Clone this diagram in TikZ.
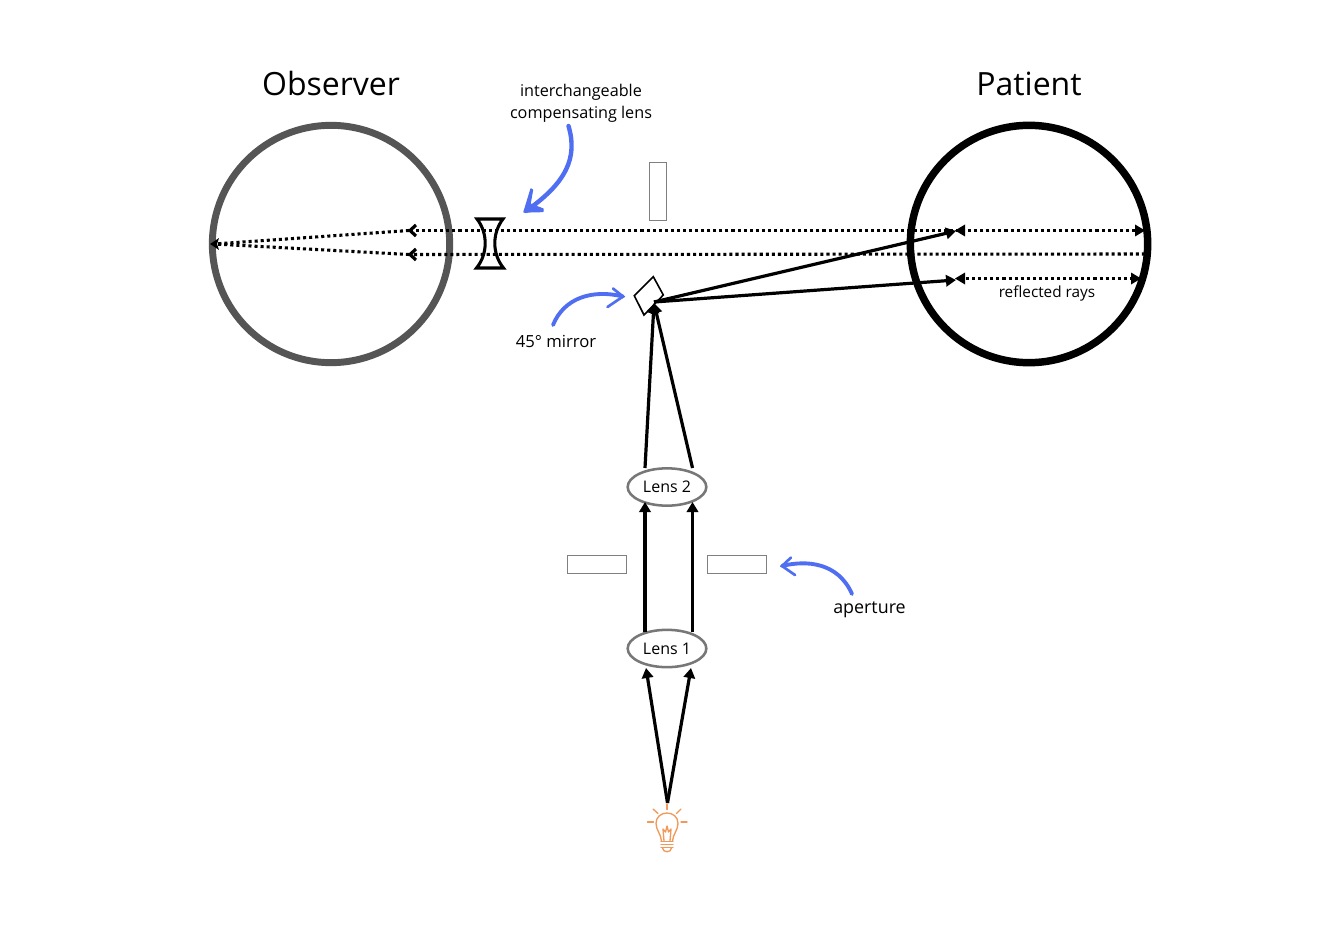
\documentclass[tikz,border=0pt]{standalone}
\usepackage{fontspec}
\setmainfont{Open Sans}
\usetikzlibrary{arrows.meta,shapes.geometric}
\definecolor{bluearrow}{HTML}{4F6EF2}
\definecolor{bulbc}{HTML}{F0995A}
\definecolor{eyegray}{HTML}{555555}
\definecolor{lensgray}{HTML}{777777}
\definecolor{stopgray}{HTML}{808080}
\tikzset{
  px/.style={x=0.75pt,y=-0.75pt},
  title/.style={inner sep=0pt,font=\fontsize{24pt}{28pt}\selectfont},
  note/.style={inner sep=0pt,align=center,font=\fontsize{12.15pt}{16.5pt}\selectfont},
  midnote/.style={inner sep=0pt,align=center,font=\fontsize{12.5pt}{16pt}\selectfont},
  bignote/.style={inner sep=0pt,align=center,font=\fontsize{13.4pt}{16pt}\selectfont},
  smallnote/.style={inner sep=0pt,align=center,font=\fontsize{11.5pt}{14pt}\selectfont},
  eye/.style={circle,inner sep=0pt,minimum size=178pt},
  lens/.style={ellipse,draw=lensgray,line width=1.9pt,inner sep=0pt,minimum width=59pt,minimum height=28pt,font=\fontsize{12pt}{14pt}\selectfont},
  stopbox/.style={draw=stopgray,line width=0.7pt,inner sep=0pt},
  ray/.style={line width=2.4pt,-{Triangle[length=7.5pt,width=8.5pt]}},
  dotray/.style={line width=2.3pt,line cap=butt,dash pattern=on 2.3pt off 2.25pt},
  bluecurve/.style={draw=bluearrow,line width=2.9pt,line cap=round},
  bluebarb/.style={draw=bluearrow,fill=bluearrow,line width=1pt,line join=round},
  bulbline/.style={draw=bulbc,line width=1pt,line cap=round,line join=round},
}
\begin{document}
\begin{tikzpicture}[px]
\useasboundingbox (0,0) rectangle (1334,934);
\fill[white] (0,0) rectangle (1334,934);
% coordinates
\coordinate (bulbtop) at (667.5,803);
\coordinate (l1inL) at (646,668);
\coordinate (l1inR) at (691,668);
\coordinate (l1outL) at (645,632);
\coordinate (l1outR) at (692.5,632);
\coordinate (l2inL) at (645,502);
\coordinate (l2inR) at (692.5,502);
\coordinate (l2outL) at (645,468);
\coordinate (l2outR) at (692.5,468);
\coordinate (mirfoot) at (654,303);
\coordinate (mirsrc) at (654,302);
\coordinate (retA) at (956,231);
\coordinate (retB) at (956,280);
\coordinate (r1R) at (1141,230.5);
\coordinate (r2R) at (1145,254);
\coordinate (r3L) at (960,278.5);
\coordinate (r3R) at (1137,278.5);
\coordinate (outA) at (409,230.5);
\coordinate (outB) at (409,254.5);
\coordinate (focus) at (214,244);
% eyes
\node[eye,draw=eyegray,line width=5.2pt] (observer) at (331,244) {};
\node[eye,draw=black,line width=5.6pt] (patient) at (1029,244) {};
% stops
\node[stopbox,minimum width=13pt,minimum height=43.5pt] (stoptop) at (658.2,191.3) {};
\node[stopbox,minimum width=44pt,minimum height=13.5pt] (stopL) at (596.8,564) {};
\node[stopbox,minimum width=44pt,minimum height=13.5pt] (stopR) at (737.2,564) {};
% dotted rays
\draw[dotray] (r1R) -- (outA);
\draw[dotray] (r2R) -- (outB);
\draw[dotray] (outA) -- (focus);
\draw[dotray] (outB) -- (focus);
\draw[dotray] (r3L) -- (r3R);
% dotted ray tips
\draw[line width=2.4pt] (416,225) -- (410,230.5) -- (416,236);
\draw[line width=2.4pt] (416,249) -- (410,254.5) -- (416,260);
\fill (210,244) -- (219,238) -- (217,244) -- (219,250) -- cycle;
\fill (955,230.5) -- (965,224.5) -- (965,236.5) -- cycle;
\fill (955,278.5) -- (965,272.5) -- (965,284.5) -- cycle;
\fill (1145,230.5) -- (1135,224.5) -- (1135,236.5) -- cycle;
\fill (1141,278.5) -- (1131,272.5) -- (1131,284.5) -- cycle;
% compensating lens
\draw[line width=2.3pt,line join=miter,fill=none] (477,219) -- (503,219)
  .. controls (492,233) and (492,254) .. (503.5,268) -- (476.5,268)
  .. controls (488,254) and (488,233) .. (477,219) -- cycle;
% mirror
\draw[line width=1.2pt,line join=miter] (653.3,276.7) -- (663.3,295) -- (644,315) -- (634.3,295.7) -- cycle;
% lenses
\node[lens] (lens1) at (667,648.5) {Lens 1};
\node[lens] (lens2) at (667,487) {Lens 2};
% solid rays
\draw[ray] (bulbtop) -- (l1inL);
\draw[ray] (bulbtop) -- (l1inR);
\draw[ray] (l1outL) -- (l2inL);
\draw[ray] (l1outR) -- (l2inR);
\draw[ray] (l2outL) -- (mirfoot);
\draw[ray] (l2outR) -- (mirfoot);
\draw[ray] (mirsrc) -- (retA);
\draw[ray] (mirsrc) -- (retB);
% bulb
\draw[bulbline] (667,804) -- (667,809.5);
\draw[bulbline] (653,809) -- (658,813.5);
\draw[bulbline] (681,809) -- (676.5,813.5);
\draw[bulbline] (647.5,822) -- (653.5,822);
\draw[bulbline] (681,822) -- (687,822);
\draw[bulbline] (661.5,841) .. controls (661,834) and (656,830) .. (656,823.5)
  .. controls (656,817) and (661,813) .. (667,813)
  .. controls (673,813) and (678,817) .. (678,823.5)
  .. controls (678,830) and (673,834) .. (672.5,841);
\draw[bulbline] (664,841) -- (663,829) -- (665.5,832) -- (667,826) -- (668.5,832) -- (671,829) -- (670,841);
\draw[bulbline] (661,841.5) -- (673,841.5);
\draw[bulbline] (661,844.5) -- (673,844.5);
\draw[bulbline] (661,847.5) -- (673,847.5);
\draw[bulbline] (662.5,848) .. controls (663,853) and (671,853) .. (671.5,848);
% text
\node[title] (obsT) at (331,84) {Observer};
\node[title] (patT) at (1029,84) {Patient};
\node[note] (tComp) at (581,103) {interchangeable\\compensating lens};
\node[midnote] (tMirror) at (556,341.5) {45° mirror};
\node[bignote] (tAp) at (869.5,610) {aperture};
\node[smallnote] (tRefl) at (1047,293.5) {reflected rays};
% blue arrows
\coordinate (b1s) at (568.5,126);
\coordinate (b1e) at (526,211);
\coordinate (b2s) at (553,325);
\coordinate (b2e) at (623,296.5);
\coordinate (b3s) at (852,594);
\coordinate (b3e) at (782,566);
\draw[bluecurve,line width=3.3pt] (b1s) .. controls (578,158) and (566,183) .. (b1e);
\fill[bluebarb] (524,212) -- (531,189) -- (532.5,190) -- (530,204) -- (543,209) -- (543,211.5) -- cycle;
\draw[bluecurve] (b2s) .. controls (564,298) and (592,289) .. (b2e);
\draw[bluecurve,line width=2pt] (613,288.5) -- (b2e) -- (607.5,307);
\draw[bluecurve] (b3s) .. controls (838,562) and (806,560) .. (b3e);
\draw[bluecurve,line width=2pt] (791,557.5) -- (b3e) -- (795,575);
\end{tikzpicture}
\end{document}
